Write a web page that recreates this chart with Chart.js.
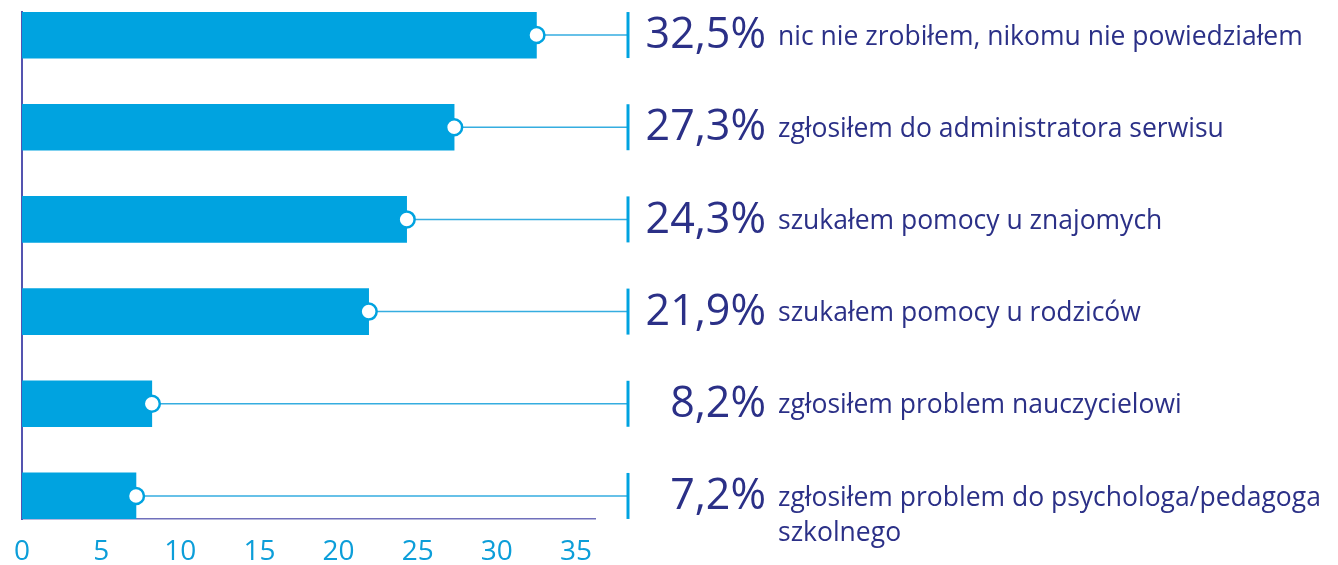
<!DOCTYPE html>
<html>
<head>
<meta charset="utf-8">
<script src="https://cdn.jsdelivr.net/npm/chart.js@4"></script>
<style>
  html, body { margin: 0; padding: 0; background: #fff; }
  #wrap { width: 1338px; height: 565px; position: relative; }
</style>
</head>
<body>
<div id="wrap"><canvas id="myChart"></canvas></div>
<script>
var categories = [
  ['nic nie zrobiłem, nikomu nie powiedziałem'],
  ['zgłosiłem do administratora serwisu'],
  ['szukałem pomocy u znajomych'],
  ['szukałem pomocy u rodziców'],
  ['zgłosiłem problem nauczycielowi'],
  ['zgłosiłem problem do psychologa/pedagoga', 'szkolnego']
];
var values = [32.5, 27.3, 24.3, 21.9, 8.2, 7.2];
var valueLabels = ['32,5%', '27,3%', '24,3%', '21,9%', '8,2%', '7,2%'];
var xTicks = [0, 5, 10, 15, 20, 25, 30, 35];

var points = values.map(function (v, i) { return {x: v, y: i}; });

var BLUE = '#00a3e0';
var NAVY = '#2b3087';
var FONT = '"Open Sans", "Noto Sans", sans-serif';

// connector lines from each marker to the label column, plus the labels
var sideLabels = {
  id: 'sideLabels',
  beforeDatasetsDraw: function (chart) {
    var ctx = chart.ctx;
    var xs = chart.scales.x, ys = chart.scales.y;
    var tickX = chart.chartArea.right + 33;
    ctx.save();
    values.forEach(function (v, i) {
      var y = ys.getPixelForValue(i);
      ctx.strokeStyle = '#35ade0';
      ctx.lineWidth = 1.5;
      ctx.beginPath();
      ctx.moveTo(xs.getPixelForValue(v), y);
      ctx.lineTo(tickX, y);
      ctx.stroke();
      ctx.strokeStyle = BLUE;
      ctx.lineWidth = 3;
      ctx.beginPath();
      ctx.moveTo(tickX, y - 23);
      ctx.lineTo(tickX, y + 23);
      ctx.stroke();
    });
    ctx.restore();
  },
  afterDraw: function (chart) {
    var ctx = chart.ctx;
    var ys = chart.scales.y;
    var right = chart.chartArea.right;
    ctx.save();
    ctx.fillStyle = NAVY;
    ctx.textBaseline = 'middle';
    values.forEach(function (v, i) {
      var y = ys.getPixelForValue(i);
      ctx.font = '43px ' + FONT;
      ctx.textAlign = 'right';
      ctx.fillText(valueLabels[i], right + 171, y + 1);
      ctx.font = '26.5px ' + FONT;
      ctx.textAlign = 'left';
      categories[i].forEach(function (line, k) {
        ctx.fillText(line, right + 183, y + 2 + k * 35);
      });
    });
    ctx.restore();
  }
};

var ctx = document.getElementById('myChart').getContext('2d');
var myChart = new Chart(ctx, {
  data: {
    datasets: [{
      type: 'line',
      indexAxis: 'y',
      data: points,
      showLine: false,
      pointRadius: 8,
      pointHoverRadius: 8,
      pointBorderWidth: 2.5,
      pointBackgroundColor: '#ffffff',
      pointBorderColor: BLUE,
      order: 0
    }, {
      type: 'bar',
      indexAxis: 'y',
      data: points,
      backgroundColor: BLUE,
      barThickness: 46,
      order: 1
    }]
  },
  options: {
    indexAxis: 'y',
    responsive: true,
    maintainAspectRatio: false,
    animation: false,
    layout: { padding: { top: 12, left: 14, right: 743, bottom: 0 } },
    scales: {
      x: {
        type: 'linear',
        min: 0,
        max: 36.2,
        afterBuildTicks: function (scale) {
          scale.ticks = xTicks.map(function (t) { return {value: t}; });
        },
        afterFit: function (scale) { scale.height = 46; },
        grid: { display: false },
        border: { display: true, color: '#7070bb', width: 1.5 },
        ticks: {
          color: '#0c9ed9',
          padding: 8,
          font: { family: FONT, size: 28 },
          maxRotation: 0
        }
      },
      y: {
        type: 'linear',
        reverse: true,
        offset: false,
        min: -0.25,
        max: 5.25,
        grid: { display: false, offset: false },
        border: { display: true, color: '#5454b0', width: 2 },
        ticks: { display: false }
      }
    },
    plugins: {
      legend: { display: false },
      tooltip: { enabled: false }
    }
  },
  plugins: [sideLabels]
});
</script>
</body>
</html>
